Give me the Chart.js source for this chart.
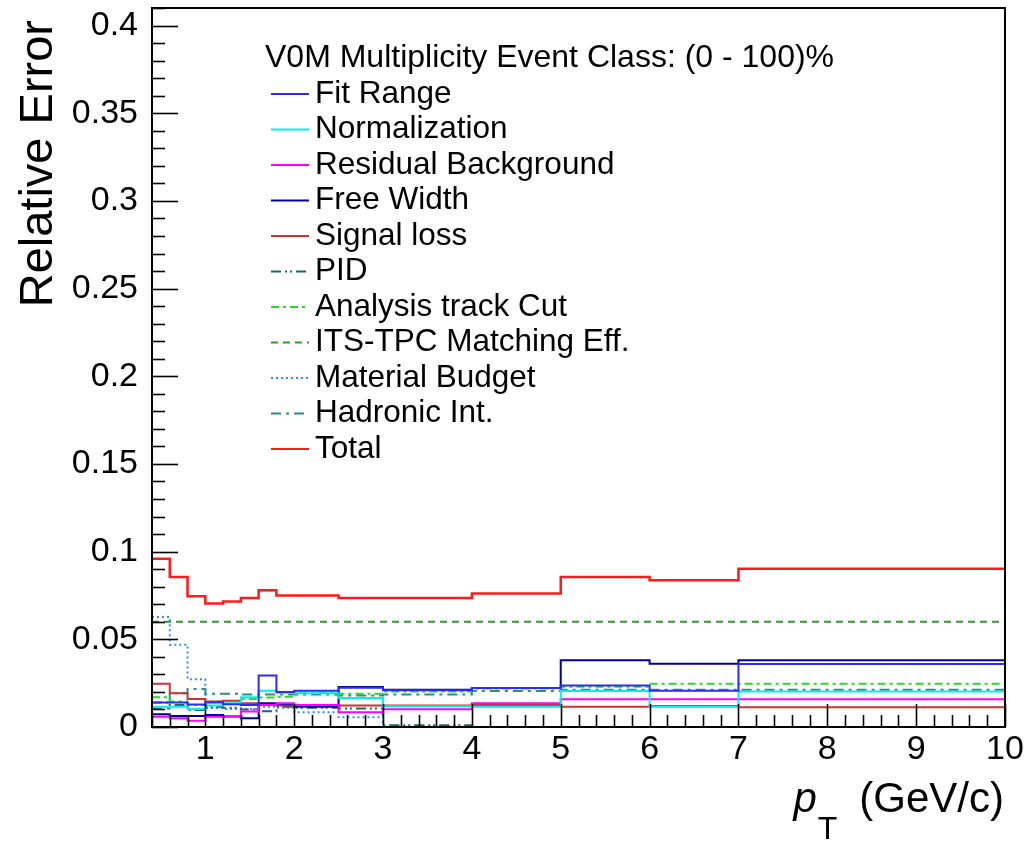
<!DOCTYPE html>
<html>
  <head>
    <title>Relative Error vs pT</title>
    <script src="https://cdn.jsdelivr.net/npm/chart.js@4.4.0/dist/chart.umd.min.js"></script>
    <style>
      body { margin: 0; background: #fff; }
    </style>
  </head>
  <body>
    <canvas id="canvas" width="1036" height="842"></canvas>
    <script>
      // pT bin edges (GeV/c)
      const binEdges = [0.4, 0.6, 0.8, 1.0, 1.2, 1.4, 1.6, 1.8, 2.0, 2.5, 3.0, 4.0, 5.0, 6.0, 7.0, 10.0];

      // relative systematic error per bin, one array per source
      const fitRange       = [0.0139, 0.0139, 0.0128, 0.0139, 0.0130, 0.0126, 0.0294, 0.0200, 0.0206, 0.0224, 0.0210, 0.0222, 0.0236, 0.0206, 0.0359];
      const normalization  = [0.0116, 0.0116, 0.0103, 0.0122, 0.0135, 0.0170, 0.0206, 0.0195, 0.0192, 0.0165, 0.0118, 0.0116, 0.0205, 0.0116, 0.0202];
      const residualBkg    = [0.0059, 0.0050, 0.0036, 0.0059, 0.0062, 0.0088, 0.0126, 0.0135, 0.0125, 0.0084, 0.0101, 0.0135, 0.0158, 0.0158, 0.0158];
      const freeWidth      = [0.0073, 0.0063, 0.0063, 0.0069, 0.0060, 0.0050, 0.0135, 0.0130, 0.0116, 0.0228, 0.0212, 0.0222, 0.0380, 0.0360, 0.0380];
      const signalLoss     = [0.0246, 0.0193, 0.0160, 0.0145, 0.0150, 0.0135, 0.0126, 0.0122, 0.0122, 0.0122, 0.0122, 0.0126, 0.0116, 0.0120, 0.0113];
      const pid            = [0.0139, 0.0125, 0.0097, 0.0115, 0.0110, 0.0100, 0.0090, 0.0115, 0.0110, 0.0105, 0.0010, 0, 0, 0, 0];
      const analysisCut    = [0.0170, 0.0145, 0.0126, 0.0145, 0.0135, 0.0160, 0.0168, 0.0172, 0.0196, 0.0190, 0.0202, 0.0220, 0.0230, 0.0246, 0.0246];
      const itsTpcMatching = [0.06, 0.06, 0.06, 0.06, 0.06, 0.06, 0.06, 0.06, 0.06, 0.06, 0.06, 0.06, 0.06, 0.06, 0.06];
      const materialBudget = [0.0627, 0.0469, 0.0273, 0.0108, 0.0103, 0.0103, 0.0115, 0.0110, 0.0084, 0.0055, 0.0003, 0, 0, 0, 0];
      const hadronicInt    = [0.0105, 0.0193, 0.0216, 0.0190, 0.0190, 0.0185, 0.0185, 0.0185, 0.0185, 0.0180, 0.0185, 0.0205, 0.0212, 0.0212, 0.0212];
      const total          = [0.0959, 0.0856, 0.0746, 0.0704, 0.0715, 0.0736, 0.0780, 0.0750, 0.0750, 0.0736, 0.0736, 0.0761, 0.0856, 0.0837, 0.0902];

      const xTicks = [1, 2, 3, 4, 5, 6, 7, 8, 9, 10];
      const yTicks = [0, 0.05, 0.1, 0.15, 0.2, 0.25, 0.3, 0.35, 0.4];

      const FONT = "'Liberation Sans', Arial, Helvetica, sans-serif";

      // histogram outline: one point at each bin's low edge, plus the last edge
      function histPoints(vals) {
        return binEdges.map((e, i) => ({ x: e, y: vals[Math.min(i, vals.length - 1)] }));
      }

      function hist(label, vals, color, dash, width) {
        return {
          label: label,
          data: histPoints(vals),
          borderColor: color,
          backgroundColor: color,
          borderWidth: width || 2,
          borderDash: dash || [],
          stepped: true,
          pointRadius: 0,
          fill: false,
        };
      }

      const datasets = [
        hist('Fit Range', fitRange, '#2b2bff'),
        hist('Normalization', normalization, '#00f0f0'),
        hist('Residual Background', residualBkg, '#ff00ff'),
        hist('Free Width', freeWidth, '#000099'),
        hist('Signal loss', signalLoss, '#cc3333'),
        hist('PID', pid, '#1d6666', [10, 4, 2, 3, 2, 4]),
        hist('Analysis track Cut', analysisCut, '#22dd22', [8, 4, 3, 4]),
        hist('ITS-TPC Matching Eff.', itsTpcMatching, '#339933', [7, 5]),
        hist('Material Budget', materialBudget, '#3388ff', [2, 3]),
        hist('Hadronic Int.', hadronicInt, '#2a8c8c', [10, 5, 3, 5]),
        hist('Total', total, '#ff1a1a', [], 2.5),
      ];

      // frame, inward ticks, legend and axis titles in ROOT style
      const rootStyle = {
        id: 'rootStyle',
        afterDraw(chart) {
          const ctx = chart.ctx;
          const area = chart.chartArea;
          const xs = chart.scales.x;
          const ys = chart.scales.y;

          ctx.save();
          ctx.strokeStyle = '#000';
          ctx.lineWidth = 1.6;
          ctx.setLineDash([]);

          // y ticks every 0.01, major every 0.05
          for (let i = 0; i <= 41; i++) {
            const y = Math.round(ys.getPixelForValue(i / 100)) + 0.5;
            const len = i % 5 === 0 ? 26 : 13;
            ctx.beginPath();
            ctx.moveTo(area.left, y);
            ctx.lineTo(area.left + len, y);
            ctx.stroke();
          }
          // x ticks every 0.2, major every 1
          for (let i = 2; i <= 50; i++) {
            const x = Math.round(xs.getPixelForValue(i / 5)) + 0.5;
            const len = i % 5 === 0 ? 23 : 12;
            ctx.beginPath();
            ctx.moveTo(x, area.bottom);
            ctx.lineTo(x, area.bottom - len);
            ctx.stroke();
          }

          ctx.lineWidth = 2;
          ctx.strokeRect(area.left, area.top, area.right - area.left, area.bottom - area.top);

          // legend
          const lx = area.left + 113;
          ctx.fillStyle = '#000';
          ctx.font = '32px ' + FONT;
          ctx.textBaseline = 'middle';
          ctx.textAlign = 'left';
          ctx.fillText('V0M Multiplicity Event Class: (0 - 100)%', lx, area.top + 50);
          ctx.font = '31.5px ' + FONT;
          chart.data.datasets.forEach((ds, i) => {
            const y = area.top + 86 + i * 35.5;
            ctx.strokeStyle = ds.borderColor;
            ctx.lineWidth = 2;
            ctx.setLineDash(ds.borderDash);
            ctx.beginPath();
            ctx.moveTo(lx + 6, y);
            ctx.lineTo(lx + 44, y);
            ctx.stroke();
            ctx.fillText(ds.label, lx + 50, y);
          });
          ctx.setLineDash([]);

          // y title, its end near the top of the frame
          ctx.save();
          ctx.translate(52, area.top + 12);
          ctx.rotate(-Math.PI / 2);
          ctx.textAlign = 'right';
          ctx.textBaseline = 'alphabetic';
          ctx.font = '47px ' + FONT;
          ctx.fillText('Relative Error', 0, 0);
          ctx.restore();

          // x title: p_T (GeV/c), right-aligned at the frame edge
          ctx.textBaseline = 'alphabetic';
          ctx.textAlign = 'left';
          const base = area.bottom + 85;
          const rest = '(GeV/c)';
          ctx.font = '42px ' + FONT;
          const wRest = ctx.measureText(rest).width;
          ctx.font = '32px ' + FONT;
          const wSub = ctx.measureText('T').width;
          ctx.font = 'italic 42px ' + FONT;
          const wP = ctx.measureText('p').width;
          const gap = 22;
          let x = area.right - wRest - gap - wSub - wP - 2;
          ctx.fillText('p', x, base);
          x += wP + 1;
          ctx.font = '32px ' + FONT;
          ctx.fillText('T', x, base + 27);
          x += wSub + gap;
          ctx.font = '42px ' + FONT;
          ctx.fillText(rest, x, base);
          ctx.restore();
        },
      };

      window.onload = () => {
        const ctx = document.getElementById('canvas').getContext('2d');
        window.errChart = new Chart(ctx, {
          type: 'line',
          data: { datasets: datasets },
          plugins: [rootStyle],
          options: {
            responsive: false,
            animation: false,
            devicePixelRatio: 1,
            layout: { padding: { left: 0, top: 8, right: 31, bottom: 0 } },
            plugins: {
              legend: { display: false },
              tooltip: { enabled: false },
            },
            scales: {
              x: {
                type: 'linear',
                min: 0.4,
                max: 10,
                afterBuildTicks: (s) => { s.ticks = xTicks.map((v) => ({ value: v })); },
                afterFit: (s) => { s.height = 115; s.paddingLeft = 0; s.paddingRight = 0; },
                grid: { display: false },
                border: { display: false },
                ticks: {
                  color: '#000',
                  padding: -6,
                  maxRotation: 0,
                  font: { family: FONT, size: 34 },
                  callback: (v) => String(v),
                },
              },
              y: {
                type: 'linear',
                min: 0,
                max: 0.41,
                afterBuildTicks: (s) => { s.ticks = yTicks.map((v) => ({ value: v })); },
                afterFit: (s) => { s.width = 152; s.paddingTop = 0; s.paddingBottom = 0; },
                grid: { display: false },
                border: { display: false },
                ticks: {
                  color: '#000',
                  padding: 6,
                  font: { family: FONT, size: 34 },
                  callback: (v) => String(+v.toFixed(2)),
                },
              },
            },
          },
        });
      };
    </script>
  </body>
</html>
